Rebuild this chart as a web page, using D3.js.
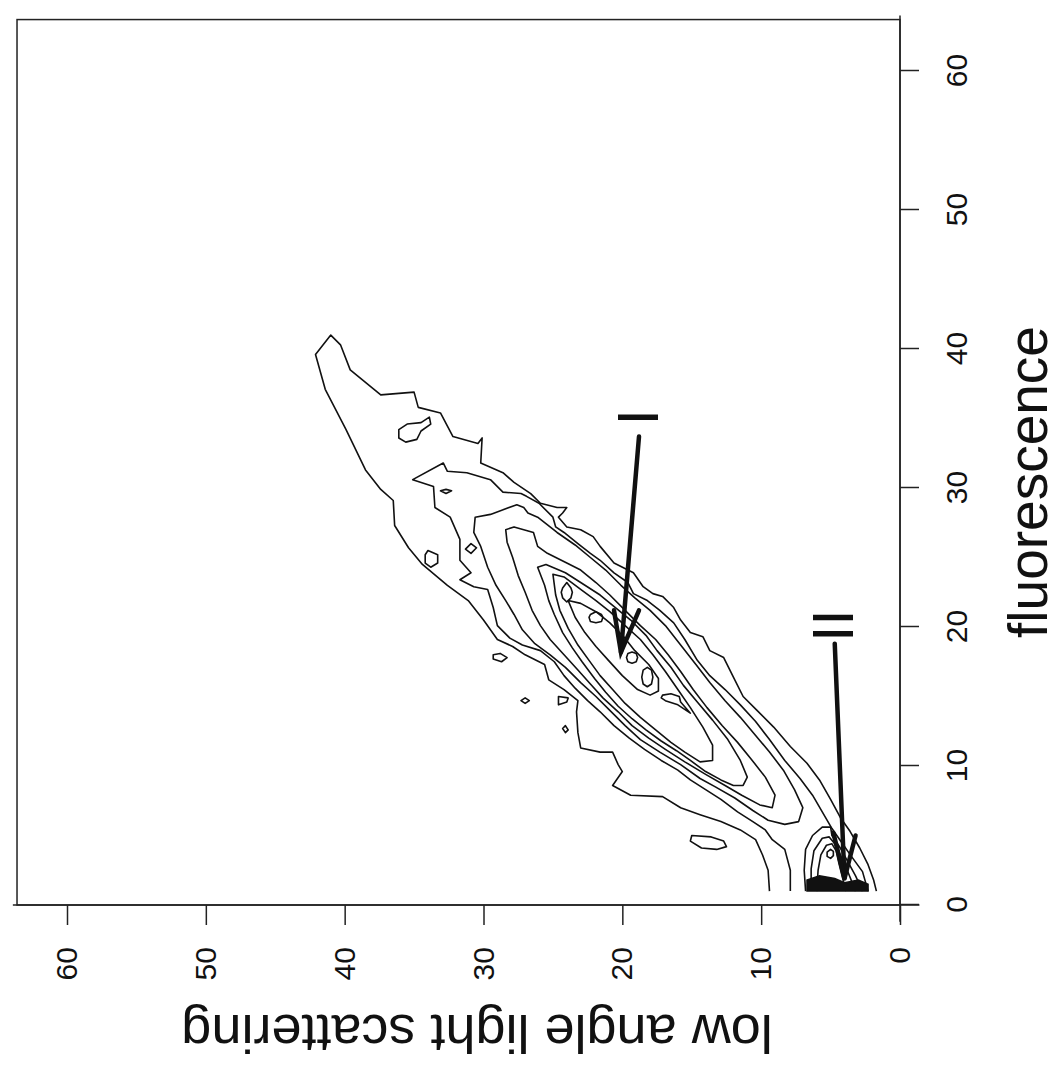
<!DOCTYPE html>
<html lang="en">
<head>
<meta charset="utf-8">
<title>fluorescence vs low angle light scattering</title>
<script src="https://cdn.jsdelivr.net/npm/d3@7/dist/d3.min.js"></script>
<style>
body{margin:0;background:#fff;}
#chart text{font-family:"Liberation Sans",Arial,Helvetica,sans-serif;fill:#111;}
</style>
</head>
<body>
<div id="chart"></div>
<script>
// ticks on both axes
var fluorescenceTicks = [0,10,20,30,40,50,60]
var scatterTicks = [0,10,20,30,40,50,60]

// contour lines, every point is [fluorescence, low angle scatter]
// lines that run into the lower edge of the grid are left open
var contour1 = [[1.0,9.4],[2.5,9.5],[3.6,9.9],[4.7,10.4],[5.4,11.5],[6.0,12.9],[6.5,14.4],[7.0,15.8],[7.8,17.1],[7.9,19.4],[8.6,20.7],[9.6,20.0],[10.1,20.3],[11.0,20.7],[11.0,21.6],[11.3,23.0],[12.4,23.2],[13.9,23.3],[14.7,23.2],[15.5,24.2],[16.2,25.3],[17.3,25.6],[18.0,27.0],[18.6,27.9],[19.1,29.0],[20.5,30.0],[21.9,31.1],[23.0,32.6],[24.5,34.4],[25.7,35.4],[27.3,36.4],[29.1,36.5],[29.9,37.4],[31.3,38.5],[34.2,39.9],[37.1,41.4],[39.6,42.1],[41.0,41.0],[40.3,40.3],[38.5,39.6],[36.7,37.4],[36.9,35.0],[35.8,34.7],[35.4,33.1],[33.7,32.2],[33.2,30.4],[33.6,30.1],[31.8,30.2],[31.1,28.6],[30.4,27.8],[29.6,26.6],[28.9,25.9],[28.6,24.7],[28.6,24.0],[28.2,24.3],[27.9,24.6],[27.2,24.0],[27.0,23.0],[26.5,22.1],[25.8,21.6],[24.6,20.6],[23.9,19.2],[22.9,18.5],[22.4,17.8],[22.2,17.1],[21.4,16.3],[20.5,15.8],[19.6,15.1],[19.3,14.2],[18.3,13.7],[17.8,12.7],[16.4,12.0],[15.0,11.3],[14.0,10.3],[12.8,9.1],[11.4,7.9],[10.2,6.7],[9.0,5.8],[7.6,5.0],[6.3,4.3],[5.3,3.6],[4.1,2.9],[2.9,2.3],[1.8,1.9],[1.0,1.7]]
var contour2 = [[1.0,7.9],[2.5,7.9],[4.0,8.3],[4.7,9.2],[5.4,9.7],[6.0,10.6],[6.7,11.7],[7.6,12.9],[8.3,14.0],[9.0,15.1],[9.7,16.0],[10.4,17.2],[11.2,18.4],[12.0,19.5],[12.9,20.6],[13.9,21.6],[14.7,22.5],[15.6,23.4],[16.5,24.2],[17.5,24.9],[18.3,25.9],[18.7,27.2],[19.2,28.1],[20.1,29.0],[21.4,29.3],[22.7,29.7],[22.9,30.7],[23.4,31.7],[23.9,30.9],[24.8,31.7],[26.3,31.7],[27.9,32.4],[28.6,33.5],[30.1,33.6],[30.6,35.1],[31.8,32.9],[31.2,32.6],[31.1,31.2],[30.6,29.5],[29.7,28.6],[29.6,27.3],[29.4,26.9],[28.9,26.0],[27.9,25.0],[27.2,24.8],[26.8,24.2],[26.0,23.2],[25.3,22.3],[24.8,21.6],[23.9,20.6],[23.2,19.6],[22.4,19.2],[21.9,18.2],[21.2,17.3],[20.3,16.3],[19.1,15.5],[17.6,14.6],[16.5,13.7],[15.5,12.6],[14.4,11.5],[13.2,10.4],[11.9,9.4],[10.4,8.3],[9.1,7.2],[7.9,6.3],[6.7,5.6],[5.5,4.9],[4.5,4.2],[3.5,3.5],[2.4,2.7],[1.0,2.3]]
var contour3 = [[27.9,30.6],[28.1,29.5],[28.8,27.6],[28.6,27.1],[28.2,26.8],[27.9,26.1],[26.8,24.7],[25.9,23.4],[25.0,22.3],[24.1,21.2],[23.0,20.1],[22.1,19.1],[21.2,18.0],[20.1,16.9],[18.7,15.8],[17.3,14.7],[16.0,13.7],[14.7,12.6],[13.5,11.5],[12.2,10.4],[11.0,9.4],[9.7,8.4],[8.3,7.6],[7.0,7.0],[6.0,7.3],[5.8,8.3],[6.1,9.5],[6.8,10.6],[7.7,11.9],[8.5,13.3],[9.1,14.4],[10.1,15.8],[11.0,17.3],[11.9,18.7],[12.9,19.8],[14.0,20.9],[15.0,21.9],[16.0,23.0],[17.1,24.1],[18.0,25.2],[18.8,26.3],[19.8,27.2],[20.9,27.8],[21.9,28.4],[23.0,29.1],[24.3,29.7],[25.8,30.2],[26.8,30.7]]
var contour4 = [[27.0,28.4],[27.2,27.8],[26.8,26.4],[25.8,26.1],[25.3,25.4],[24.6,24.0],[24.1,23.0],[23.2,21.9],[22.3,20.9],[21.2,19.8],[20.1,18.7],[19.1,17.6],[18.0,16.7],[16.8,15.8],[15.5,14.9],[14.2,13.9],[12.9,12.8],[11.7,11.7],[10.6,10.8],[9.2,9.7],[7.9,9.0],[7.0,9.2],[7.2,10.1],[7.9,11.4],[8.6,12.6],[9.4,14.0],[10.3,15.5],[11.2,16.9],[12.0,18.1],[12.9,19.3],[13.9,20.3],[14.9,21.4],[15.9,22.3],[16.9,23.2],[18.0,24.2],[19.1,25.2],[20.1,25.9],[21.2,26.5],[22.5,27.0],[23.7,27.5],[25.0,27.9],[26.1,28.3]]
var contour5 = [[24.3,26.1],[24.5,25.5],[23.9,24.1],[23.2,23.0],[22.3,21.6],[21.4,20.5],[20.5,19.4],[19.4,18.3],[18.3,17.5],[17.1,16.5],[15.8,15.6],[14.6,14.6],[13.3,13.5],[11.9,12.4],[10.4,11.5],[9.2,11.0],[8.6,11.3],[8.6,12.0],[9.0,12.9],[9.6,14.0],[10.4,15.1],[11.1,16.1],[11.8,17.2],[12.6,18.3],[13.4,19.3],[14.3,20.3],[15.3,21.2],[16.3,22.0],[17.5,22.9],[18.5,23.6],[19.6,24.3],[20.9,24.9],[21.9,25.3],[23.0,25.6]]
var contour6 = [[23.8,25.0],[23.6,24.2],[22.7,23.0],[21.9,21.9],[21.1,20.9],[20.1,19.8],[19.1,18.7],[18.0,17.8],[16.8,16.9],[15.5,16.0],[14.2,15.1],[12.8,14.2],[11.5,13.5],[10.4,13.5],[10.3,14.4],[11.0,15.5],[11.7,16.5],[12.6,17.6],[13.5,18.7],[14.5,19.8],[15.5,20.7],[16.5,21.6],[17.6,22.4],[18.7,23.2],[19.9,23.9],[21.2,24.5],[22.3,24.8]]
var contour7 = [[21.9,23.9],[21.7,23.0],[21.1,21.9],[20.3,20.9],[19.3,19.9],[18.3,19.1],[17.3,18.1],[16.3,17.4],[15.4,17.4],[15.1,18.0],[15.5,18.9],[16.5,20.0],[17.6,21.0],[18.6,21.9],[19.6,22.7],[20.7,23.4]]
var peak1 = [[23.2,24.0],[22.8,23.7],[22.5,23.6],[22.1,23.7],[21.8,24.0],[22.1,24.3],[22.5,24.4],[22.8,24.3]]
var peak2 = [[21.1,21.9],[20.9,21.5],[20.7,21.4],[20.4,21.5],[20.3,21.9],[20.4,22.3],[20.7,22.4],[20.9,22.3]]
var peak3 = [[18.2,19.3],[18.1,19.0],[17.8,18.9],[17.5,19.0],[17.4,19.3],[17.5,19.6],[17.8,19.7],[18.1,19.6]]
var peak4 = [[17.1,18.2],[16.9,17.9],[16.4,17.8],[15.9,17.9],[15.7,18.2],[15.9,18.5],[16.4,18.6],[16.9,18.5]]
var peak5 = [[15.2,16.5],[15.1,17.1],[14.9,17.2],[14.7,16.9],[14.4,16.0],[13.8,15.1],[14.6,15.8],[15.0,15.9]]

// small islands outside the main band
var island1 = [[34.2,36.1],[34.6,35.5],[34.7,34.5],[35.1,33.9],[34.6,33.8],[34.1,34.5],[33.5,34.8],[33.3,35.6],[33.6,36.1]]
var island2 = [[25.5,34.0],[25.2,33.3],[24.6,33.3],[24.3,33.8],[24.6,34.2],[25.2,34.2]]
var island3 = [[29.9,32.7],[29.8,32.3],[29.6,32.7],[29.8,33.1]]
var island4 = [[26.0,30.9],[25.7,30.5],[25.3,30.9],[25.6,31.3]]
var island5 = [[18.1,28.8],[17.8,28.3],[17.5,28.7],[17.7,29.3],[18.0,29.3]]
var island6 = [[14.9,27.0],[14.7,26.7],[14.5,27.0],[14.7,27.3]]
var island7 = [[15.0,24.6],[14.4,24.6],[14.6,24.0],[14.9,23.9]]
var island8 = [[12.9,24.1],[12.6,23.9],[12.4,24.1],[12.7,24.3]]
var island9 = [[5.0,15.0],[4.6,15.1],[4.1,14.3],[4.0,13.2],[4.2,12.5],[4.6,12.7],[4.9,13.6]]

// population II near the origin
var popII1 = [[1.0,6.8],[2.5,6.9],[4.0,6.8],[5.0,6.3],[5.6,5.6],[5.6,5.0],[5.0,4.9],[4.1,4.3],[3.2,3.8],[2.1,3.2],[1.0,2.7]]
var popII2 = [[1.0,6.4],[2.6,6.4],[3.9,6.2],[4.8,5.6],[4.9,5.1],[4.4,4.7],[3.6,4.3],[2.5,3.8],[1.0,3.2]]
var popII3 = [[1.0,6.0],[2.5,5.9],[3.6,5.7],[4.3,5.3],[4.4,4.9],[3.9,4.6],[3.0,4.4],[2.2,4.2],[1.0,3.9]]
var popII4 = [[4.0,5.0],[3.8,5.25],[3.5,5.25],[3.35,5.0],[3.55,4.8],[3.85,4.8]]
var popIIcore = [[1.0,6.7],[1.8,6.7],[2.1,5.8],[1.9,4.7],[1.6,4.0],[1.8,3.0],[1.5,2.3],[1.0,2.3]]

// arrows and their labels
var arrowIShaft = [[33.7,18.8],[18.2,20.1]]
var arrowIHead = [[21.2,20.6],[18.2,20.1],[21.2,18.8]]
var arrowIIShaft = [[18.8,4.7],[1.9,4.0]]
var arrowIIHead = [[5.2,4.8],[1.9,4.0],[5.0,3.2]]
var labelNames = ["I","II"]
var labelSpots = [[35.1,17.4],[20.1,3.4]]

var openLines = [contour1, contour2, popII1, popII2, popII3]
var closedLines = [contour3, contour4, contour5, contour6, contour7, peak1, peak2, peak3, peak4, peak5,
                   island1, island2, island3, island4, island5, island6, island7, island8, island9, popII4]

var W = 1062
var H = 1078

var svg = d3.select("#chart")
            .append("svg")
            .attr("width",W)
            .attr("height",H)

svg.append("rect").attr("width",W).attr("height",H).attr("fill","#fff")

// the plot is drawn upright here and then turned a quarter turn anticlockwise
var g = svg.append("g")
           .attr("transform","translate(0,"+H+") rotate(-90)")

var xScale = d3.scaleLinear().domain([0,60]).range([173,1007])  // fluorescence
var yScale = d3.scaleLinear().domain([0,60]).range([900,67])    // low angle scatter

// frame
g.append("rect")
    .attr("x",xScale(0))
    .attr("y",yScale(63.6))
    .attr("width",xScale(63.7)-xScale(0))
    .attr("height",yScale(0)-yScale(63.6))
    .attr("fill","none")
    .attr("stroke","#222")
    .attr("stroke-width",1.5)

// axes
var xAxis = d3.axisBottom(xScale).tickValues(fluorescenceTicks).tickSize(19).tickSizeOuter(0).tickPadding(27)
var yAxis = d3.axisLeft(yScale).tickValues(scatterTicks).tickSize(20).tickSizeOuter(0).tickPadding(22)

var gx = g.append("g")
    .attr("transform","translate(0,"+yScale(0)+")")
    .call(xAxis)
var gy = g.append("g")
    .attr("transform","translate("+xScale(0)+",0)")
    .call(yAxis)

g.selectAll(".domain").remove()
g.selectAll(".tick line").attr("stroke","#222").attr("stroke-width",1.5)
g.selectAll(".tick text").attr("font-size",30).attr("font-family",null).attr("fill","#111")

g.append("line")
    .attr("x1",xScale(-1.2)).attr("x2",xScale(64))
    .attr("y1",yScale(0)).attr("y2",yScale(0))
    .attr("stroke","#222").attr("stroke-width",1.5)
g.append("line")
    .attr("x1",xScale(0)).attr("x2",xScale(0))
    .attr("y1",yScale(-1.4)).attr("y2",yScale(63.9))
    .attr("stroke","#222").attr("stroke-width",1.5)

// axis titles
g.append("text")
    .attr("x",596)
    .attr("y",1047)
    .attr("text-anchor","middle")
    .attr("font-size",55)
    .text("fluorescence")
g.append("text")
    .attr("transform","translate(63,477) rotate(-90)")
    .attr("text-anchor","middle")
    .attr("font-size",54)
    .text("low angle light scattering")

// contours
var path = d3.line()
    .x(function(d){ return xScale(d[0]) })
    .y(function(d){ return yScale(d[1]) })
var ring = d3.line()
    .x(function(d){ return xScale(d[0]) })
    .y(function(d){ return yScale(d[1]) })
    .curve(d3.curveLinearClosed)

g.selectAll(".openLine")
    .data(openLines)
    .enter()
    .append("path")
    .attr("class","openLine")
    .attr("d",path)
    .attr("fill","none")
    .attr("stroke","#111")
    .attr("stroke-width",1.6)
    .attr("stroke-linejoin","round")

g.selectAll(".closedLine")
    .data(closedLines)
    .enter()
    .append("path")
    .attr("class","closedLine")
    .attr("d",ring)
    .attr("fill","none")
    .attr("stroke","#111")
    .attr("stroke-width",1.6)
    .attr("stroke-linejoin","round")

g.append("path")
    .datum(popIIcore)
    .attr("d",ring)
    .attr("fill","#111")
    .attr("stroke","#111")
    .attr("stroke-width",1.5)

// arrows
g.selectAll(".shaft")
    .data([arrowIShaft, arrowIIShaft])
    .enter()
    .append("path")
    .attr("class","shaft")
    .attr("d",path)
    .attr("stroke","#111")
    .attr("stroke-width",4.5)
    .attr("stroke-linecap","round")
g.selectAll(".head")
    .data([arrowIHead, arrowIIHead])
    .enter()
    .append("path")
    .attr("class","head")
    .attr("d",path)
    .attr("fill","none")
    .attr("stroke","#111")
    .attr("stroke-width",4.5)
    .attr("stroke-linecap","round")
    .attr("stroke-linejoin","miter")

g.selectAll(".arrowLabel")
    .data(labelNames)
    .enter()
    .append("text")
    .attr("class","arrowLabel")
    .attr("x",function(d,i){ return xScale(labelSpots[i][0]) })
    .attr("y",function(d,i){ return yScale(labelSpots[i][1]) })
    .attr("text-anchor","middle")
    .attr("font-size",58)
    .text(function(d){ return d })
</script>
</body>
</html>
